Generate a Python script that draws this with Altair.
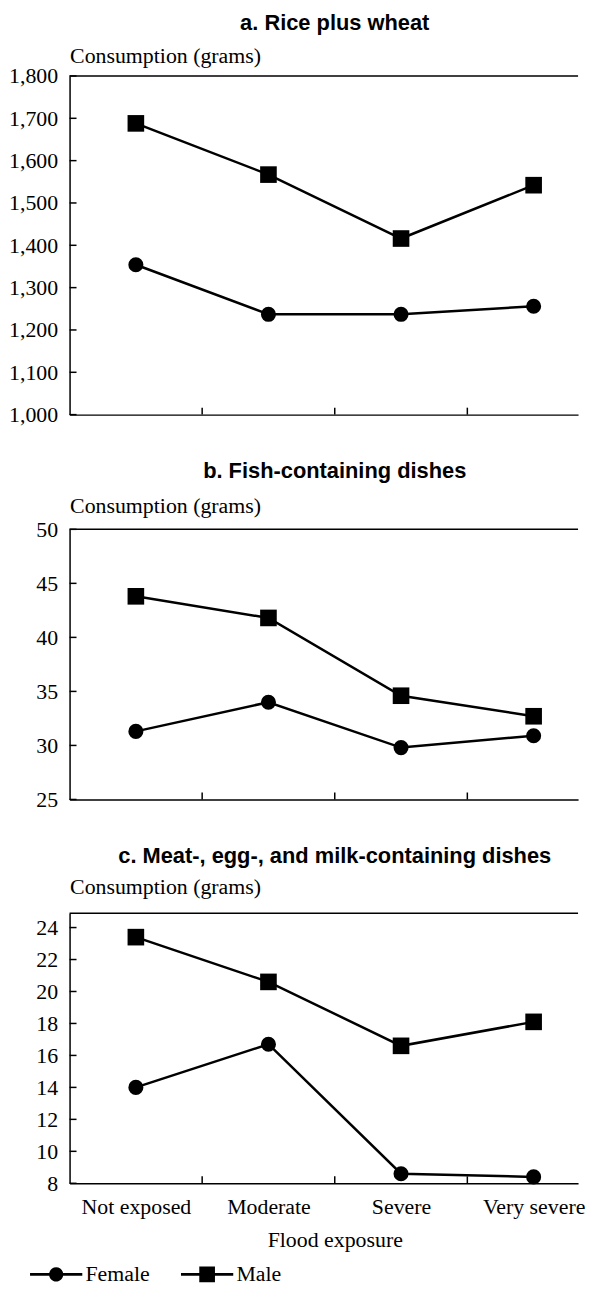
import json
import altair as alt
import pandas as pd

# ---------------- data ----------------
categories = ["Not exposed", "Moderate", "Severe", "Very severe"]
sexes = ["Female", "Male"]

rice_female = [1354, 1237, 1237, 1256]
rice_male = [1688, 1567, 1416, 1542]
fish_female = [31.3, 34.0, 29.8, 30.9]
fish_male = [43.8, 41.8, 34.6, 32.7]
meat_female = [14.0, 16.7, 8.6, 8.4]
meat_male = [23.4, 20.6, 16.6, 18.1]

rice_ticks = [1000, 1100, 1200, 1300, 1400, 1500, 1600, 1700, 1800]
fish_ticks = [25, 30, 35, 40, 45, 50]
meat_ticks = [8, 10, 12, 14, 16, 18, 20, 22, 24]

between_ticks = [0.5, 1.5, 2.5]

panel_titles = [
    "a. Rice plus wheat",
    "b. Fish-containing dishes",
    "c. Meat-, egg-, and milk-containing dishes",
]
y_title = "Consumption (grams)"
x_title = "Flood exposure"

# ---------------- style ----------------
SERIF = "Liberation Serif"
SANS = "Liberation Sans"
FS = 22
W = 512
FULL_W = 534
XDOM = [-0.5, 3.335]

# legend symbols: line + marker (unit coords)
bar = "M-2,-0.1L2,-0.1L2,0.1L-2,0.1Z"
path_f = bar + "M0.54,0A0.54,0.54 0 1,1 -0.54,0A0.54,0.54 0 1,1 0.54,0Z"
path_m = bar + "M-0.6,-0.6L0.6,-0.6L0.6,0.6L-0.6,0.6Z"


def panel(title, female, male, ticks, ydom, height, fmt, last=False, title_offset=10,
          ytitle_y=-14, bottom_space=0):
    df = pd.DataFrame({
        "idx": list(range(len(categories))) * 2,
        "cat": categories * 2,
        "sex": ["Female"] * len(female) + ["Male"] * len(male),
        "value": female + male,
    })
    xs = alt.Scale(domain=XDOM, nice=False, zero=False)
    ys = alt.Scale(domain=ydom, nice=False, zero=False)

    if last:
        x_axis = alt.Axis(
            values=list(range(len(categories))),
            labelExpr=json.dumps(categories) + "[datum.value]",
            ticks=False, tickSize=0, labelPadding=13, labelFlush=False, labelOverlap=False,
            domain=True, grid=False, title=x_title, titleX=FULL_W / 2, titleAlign="center",
            titlePadding=12.4,
        )
        xt_title = x_title
    else:
        x_axis = alt.Axis(labels=False, ticks=False, tickSize=0, domain=True, grid=False, title=None)
        xt_title = None

    y_axis = alt.Axis(
        values=ticks, format=fmt, ticks=False, tickSize=0, labelPadding=12, labelOverlap=False,
        labelFlush=False, labelBound=False, domain=True,
        grid=False, title=y_title, titleAngle=0, titleAlign="left", titleX=0, titleY=ytitle_y,
        titleBaseline="alphabetic",
    )

    X = lambda f: alt.X(f, scale=xs, axis=x_axis, title=xt_title)
    Y = lambda f: alt.Y(f, scale=ys, axis=y_axis, title=y_title)

    base = alt.Chart(df)
    lines = base.mark_line(color="black", strokeWidth=2.5).encode(
        x=X("idx:Q"), y=Y("value:Q"), detail="sex:N",
    )
    points = base.mark_point(filled=True, color="black", opacity=1).encode(
        x=X("idx:Q"), y=Y("value:Q"),
        shape=alt.Shape("sex:N", scale=alt.Scale(domain=sexes, range=["circle", "square"]), legend=None),
        size=alt.Size("sex:N", scale=alt.Scale(domain=sexes, range=[230, 280]), legend=None),
    )
    xt = alt.Chart(pd.DataFrame({"pos": between_ticks})).mark_rule(color="black", strokeWidth=1.5).encode(
        x=X("pos:Q"), y=alt.value(height - 7), y2=alt.value(height)
    )
    yt = alt.Chart(pd.DataFrame({"tick": ticks})).mark_rule(color="black", strokeWidth=1.5).encode(
        y=Y("tick:Q"), x=alt.value(0), x2=alt.value(7)
    )
    top = alt.Chart(pd.DataFrame({"k": [0]})).mark_rule(color="black", strokeWidth=1.5).encode(
        x=alt.value(0), x2=alt.value(W), y=alt.value(0)
    )
    layers = [lines, points, xt, yt, top]
    if bottom_space:
        # white (invisible on the white page) spacer that widens the gap below this panel
        spacer = alt.Chart(pd.DataFrame({"k": [0]})).mark_rule(color="white", strokeWidth=1).encode(
            x=alt.value(100), x2=alt.value(101), y=alt.value(height + bottom_space)
        )
        layers.append(spacer)
    if last:
        leg = base.transform_filter("false").mark_point(filled=True, color="black", opacity=1).encode(
            x=X("idx:Q"), y=Y("value:Q"),
            shape=alt.Shape(
                "sex:N",
                scale=alt.Scale(domain=sexes, range=[path_f, path_m]),
                legend=alt.Legend(
                    title=None, orient="none", direction="horizontal", legendX=-27, legendY=350,
                    symbolSize=692, symbolFillColor="black", symbolStrokeWidth=0,
                    symbolOpacity=1,
                    labelOffset=16, columnPadding=31, labelFont=SERIF, labelFontSize=FS,
                    labelColor="black",
                ),
            ),
        )
        layers.append(leg)
    ch = alt.layer(*layers).properties(
        width=W, height=height,
        title=alt.TitleParams(
            text=title, font=SANS, fontSize=22, fontWeight="bold", anchor="middle", frame="group",
            offset=title_offset, dx=(FULL_W - W) / 2, color="black",
        ),
    )
    if last:
        ch = ch.resolve_scale(shape="independent", size="independent")
    return ch


pa = panel(panel_titles[0], rice_female, rice_male, rice_ticks, [1000, 1800], 341, ",.0f",
           title_offset=9.4, ytitle_y=-14)
pb = panel(panel_titles[1], fish_female, fish_male, fish_ticks, [25, 50], 272, "d",
           title_offset=11.9, ytitle_y=-17, bottom_space=8.5)
pc = panel(panel_titles[2], meat_female, meat_male, meat_ticks, [8, 24.9], 272, "d", last=True,
           title_offset=7.7, ytitle_y=-20)

chart = alt.vconcat(pa, pb, pc, spacing=34.5).properties(
    padding={"left": 0, "right": 0, "top": -1, "bottom": 0}
).configure_view(stroke=None).configure_axis(
    labelFont=SERIF, labelFontSize=FS, labelColor="black",
    titleFont=SERIF, titleFontSize=FS, titleFontWeight="normal", titleColor="black",
    domainColor="black", domainWidth=1.5,
).configure_concat(spacing=34.5)

chart.save("out.html", embed_options={"renderer": "svg", "actions": False})
